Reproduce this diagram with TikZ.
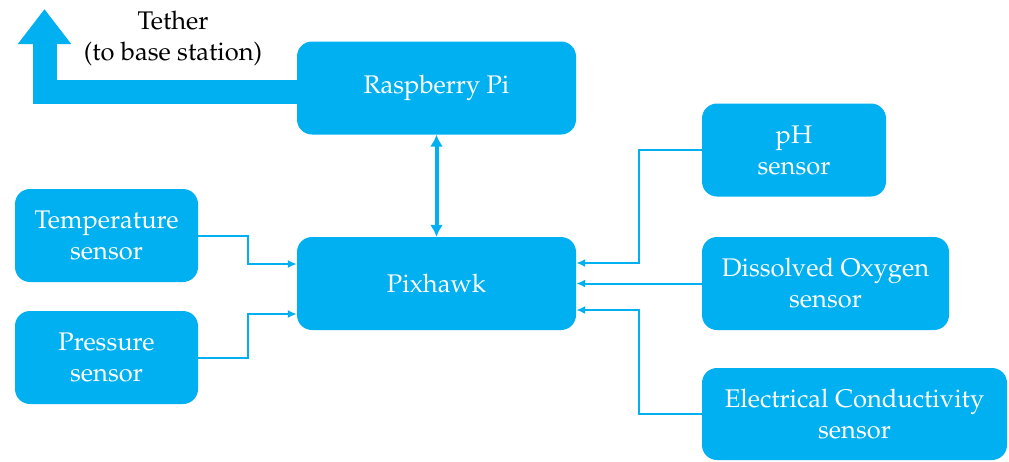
\documentclass[tikz,border=0pt]{standalone}
\usepackage[T1]{fontenc}
\renewcommand\rmdefault{ppl}
\usepackage{tikz}
\usetikzlibrary{arrows.meta}
\usetikzlibrary{positioning}
\definecolor{skyblue}{RGB}{0,176,240}
\tikzset{>=latex}
\newcommand\boxheight{93pt}
\newcommand\boxfont{\fontsize{25.5}{31}\selectfont}
\tikzset{
    block/.style={fill=skyblue, rounded corners=15pt, text=white, font=\boxfont, align=center, minimum height=\boxheight, inner sep=0pt, on grid},
    wire/.style={draw=skyblue, line width=2pt, -{Latex[length=9pt,width=8pt]}},
    bus/.style={draw=skyblue, line width=4pt, {Latex[length=12pt,width=13pt]}-{Latex[length=12pt,width=13pt]}},
    tether/.style={draw=skyblue, line width=24pt, line join=miter, -{Triangle[length=35pt,width=51pt]}},
}
\begin{document}
\begin{tikzpicture}[x=1pt,y=1pt]
    \useasboundingbox (0,0) rectangle (1009,-461);
    \node[block, minimum width=279pt] (pix) at (436.5,-283.5) {Pixhawk};
    \node[block, minimum width=279pt] (rpi) [above=195.5pt of pix] {Raspberry Pi};
    \node[block, minimum width=183pt] (temp) [above left=48pt and 330pt of pix] {Temperature\\sensor};
    \node[block, minimum width=183pt] (pres) [below left=74pt and 330pt of pix] {Pressure\\sensor};
    \node[block, minimum width=184pt] (ph) [above right=133.5pt and 357.5pt of pix] {pH\\sensor};
    \node[block, minimum width=247pt] (do) [right=389pt of pix] {Dissolved Oxygen\\sensor};
    \node[block, minimum width=305pt, minimum height=92pt] (ec) [below right=130.5pt and 418pt of pix] {Electrical Conductivity\\sensor};
    % tether to the base station
    \coordinate (up) at (44.5,-9);
    \draw[tether] ([yshift=-3.5pt]rpi.west) -| (up);
    \node[font=\boxfont, align=center] (tlabel) at (173,-38) {Tether\\(to base station)};
    % links
    \draw[bus] (rpi.south) -- (pix.north);
    \draw[wire] (temp.east) -- ++(50,0) |- ([yshift=19.5pt]pix.west);
    \draw[wire] (pres.east) -- ++(50,0) |- ([yshift=-30.5pt]pix.west);
    \draw[wire] (ph.west) -- ++(-63,0) |- ([yshift=20.5pt]pix.east);
    \draw[wire] (do.west) -- (pix.east);
    \draw[wire] (ec.west) -- ++(-63,0) |- ([yshift=-26.5pt]pix.east);
\end{tikzpicture}
\end{document}
